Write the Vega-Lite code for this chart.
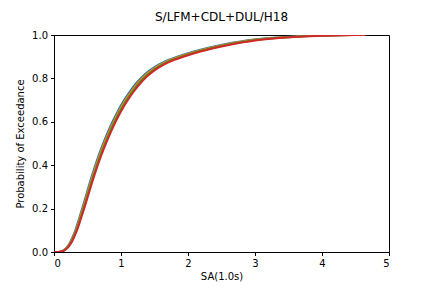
{
  "$schema": "https://vega.github.io/schema/vega-lite/v6.json",
  "autosize": "none",
  "width": 335,
  "height": 217,
  "padding": {"left": 54, "top": 35, "right": 43, "bottom": 36},
  "background": "white",
  "title": {"text": "S/LFM+CDL+DUL/H18", "font": "DejaVu Sans", "fontSize": 12, "fontWeight": "normal", "color": "black", "offset": 6, "anchor": "middle"},
  "config": {
    "view": {"stroke": "black", "strokeWidth": 1},
    "axis": {"grid": false, "domainColor": "black", "tickColor": "black", "labelColor": "black", "titleColor": "black", "labelFont": "DejaVu Sans", "titleFont": "DejaVu Sans", "labelFontSize": 10, "titleFontSize": 10, "titleFontWeight": "normal", "tickSize": 3.5, "labelPadding": 3}
  },
  "datasets": {
    "curves": [
      {"s": "a", "x": 0, "p": 0}, {"s": "a", "x": 0.048, "p": 0}, {"s": "a", "x": 0.084, "p": 0.001}, {"s": "a", "x": 0.132, "p": 0.006}, {"s": "a", "x": 0.18, "p": 0.018}, {"s": "a", "x": 0.228, "p": 0.038}, {"s": "a", "x": 0.276, "p": 0.068}, {"s": "a", "x": 0.324, "p": 0.105}, {"s": "a", "x": 0.372, "p": 0.152}, {"s": "a", "x": 0.42, "p": 0.2}, {"s": "a", "x": 0.468, "p": 0.25}, {"s": "a", "x": 0.564, "p": 0.35}, {"s": "a", "x": 0.66, "p": 0.44}, {"s": "a", "x": 0.756, "p": 0.518}, {"s": "a", "x": 0.852, "p": 0.587}, {"s": "a", "x": 0.948, "p": 0.647}, {"s": "a", "x": 1.044, "p": 0.699}, {"s": "a", "x": 1.14, "p": 0.743}, {"s": "a", "x": 1.236, "p": 0.781}, {"s": "a", "x": 1.332, "p": 0.812}, {"s": "a", "x": 1.428, "p": 0.837}, {"s": "a", "x": 1.524, "p": 0.857}, {"s": "a", "x": 1.62, "p": 0.873}, {"s": "a", "x": 1.716, "p": 0.886}, {"s": "a", "x": 1.908, "p": 0.907}, {"s": "a", "x": 2.1, "p": 0.925}, {"s": "a", "x": 2.388, "p": 0.947}, {"s": "a", "x": 2.676, "p": 0.965}, {"s": "a", "x": 2.868, "p": 0.975}, {"s": "a", "x": 3.348, "p": 0.989}, {"s": "a", "x": 3.828, "p": 0.996}, {"s": "a", "x": 4.116, "p": 0.999}, {"s": "a", "x": 4.45, "p": 1.0},
      {"s": "b", "x": 0, "p": 0}, {"s": "b", "x": 0.049, "p": 0}, {"s": "b", "x": 0.089, "p": 0.001}, {"s": "b", "x": 0.138, "p": 0.006}, {"s": "b", "x": 0.187, "p": 0.018}, {"s": "b", "x": 0.235, "p": 0.038}, {"s": "b", "x": 0.284, "p": 0.068}, {"s": "b", "x": 0.333, "p": 0.105}, {"s": "b", "x": 0.381, "p": 0.152}, {"s": "b", "x": 0.43, "p": 0.2}, {"s": "b", "x": 0.479, "p": 0.25}, {"s": "b", "x": 0.576, "p": 0.35}, {"s": "b", "x": 0.673, "p": 0.44}, {"s": "b", "x": 0.77, "p": 0.518}, {"s": "b", "x": 0.868, "p": 0.587}, {"s": "b", "x": 0.965, "p": 0.647}, {"s": "b", "x": 1.062, "p": 0.699}, {"s": "b", "x": 1.16, "p": 0.743}, {"s": "b", "x": 1.257, "p": 0.781}, {"s": "b", "x": 1.354, "p": 0.812}, {"s": "b", "x": 1.452, "p": 0.837}, {"s": "b", "x": 1.549, "p": 0.857}, {"s": "b", "x": 1.646, "p": 0.873}, {"s": "b", "x": 1.743, "p": 0.886}, {"s": "b", "x": 1.938, "p": 0.907}, {"s": "b", "x": 2.133, "p": 0.925}, {"s": "b", "x": 2.425, "p": 0.947}, {"s": "b", "x": 2.716, "p": 0.965}, {"s": "b", "x": 2.911, "p": 0.975}, {"s": "b", "x": 3.398, "p": 0.989}, {"s": "b", "x": 3.884, "p": 0.996}, {"s": "b", "x": 4.176, "p": 0.999}, {"s": "b", "x": 4.52, "p": 1.0},
      {"s": "c", "x": 0, "p": 0}, {"s": "c", "x": 0.049, "p": 0}, {"s": "c", "x": 0.095, "p": 0.001}, {"s": "c", "x": 0.144, "p": 0.006}, {"s": "c", "x": 0.193, "p": 0.018}, {"s": "c", "x": 0.243, "p": 0.038}, {"s": "c", "x": 0.292, "p": 0.068}, {"s": "c", "x": 0.341, "p": 0.105}, {"s": "c", "x": 0.391, "p": 0.152}, {"s": "c", "x": 0.44, "p": 0.2}, {"s": "c", "x": 0.49, "p": 0.25}, {"s": "c", "x": 0.588, "p": 0.35}, {"s": "c", "x": 0.687, "p": 0.44}, {"s": "c", "x": 0.786, "p": 0.518}, {"s": "c", "x": 0.884, "p": 0.587}, {"s": "c", "x": 0.983, "p": 0.647}, {"s": "c", "x": 1.082, "p": 0.699}, {"s": "c", "x": 1.18, "p": 0.743}, {"s": "c", "x": 1.279, "p": 0.781}, {"s": "c", "x": 1.378, "p": 0.812}, {"s": "c", "x": 1.477, "p": 0.837}, {"s": "c", "x": 1.575, "p": 0.857}, {"s": "c", "x": 1.674, "p": 0.873}, {"s": "c", "x": 1.773, "p": 0.886}, {"s": "c", "x": 1.97, "p": 0.907}, {"s": "c", "x": 2.167, "p": 0.925}, {"s": "c", "x": 2.464, "p": 0.947}, {"s": "c", "x": 2.76, "p": 0.965}, {"s": "c", "x": 2.957, "p": 0.975}, {"s": "c", "x": 3.45, "p": 0.989}, {"s": "c", "x": 3.944, "p": 0.996}, {"s": "c", "x": 4.24, "p": 0.999}, {"s": "c", "x": 4.59, "p": 1.0},
      {"s": "d", "x": 0, "p": 0}, {"s": "d", "x": 0.05, "p": 0}, {"s": "d", "x": 0.1, "p": 0.001}, {"s": "d", "x": 0.15, "p": 0.006}, {"s": "d", "x": 0.2, "p": 0.018}, {"s": "d", "x": 0.25, "p": 0.038}, {"s": "d", "x": 0.3, "p": 0.068}, {"s": "d", "x": 0.35, "p": 0.105}, {"s": "d", "x": 0.4, "p": 0.152}, {"s": "d", "x": 0.45, "p": 0.2}, {"s": "d", "x": 0.5, "p": 0.25}, {"s": "d", "x": 0.6, "p": 0.35}, {"s": "d", "x": 0.7, "p": 0.44}, {"s": "d", "x": 0.8, "p": 0.518}, {"s": "d", "x": 0.9, "p": 0.587}, {"s": "d", "x": 1.0, "p": 0.647}, {"s": "d", "x": 1.1, "p": 0.699}, {"s": "d", "x": 1.2, "p": 0.743}, {"s": "d", "x": 1.3, "p": 0.781}, {"s": "d", "x": 1.4, "p": 0.812}, {"s": "d", "x": 1.5, "p": 0.837}, {"s": "d", "x": 1.6, "p": 0.857}, {"s": "d", "x": 1.7, "p": 0.873}, {"s": "d", "x": 1.8, "p": 0.886}, {"s": "d", "x": 2.0, "p": 0.907}, {"s": "d", "x": 2.2, "p": 0.925}, {"s": "d", "x": 2.5, "p": 0.947}, {"s": "d", "x": 2.8, "p": 0.965}, {"s": "d", "x": 3.0, "p": 0.975}, {"s": "d", "x": 3.5, "p": 0.989}, {"s": "d", "x": 4.0, "p": 0.996}, {"s": "d", "x": 4.3, "p": 0.999}, {"s": "d", "x": 4.65, "p": 1.0}
    ]
  },
  "data": {"name": "curves"},
  "mark": {"type": "line", "strokeWidth": 2, "clip": true, "interpolate": "monotone"},
  "encoding": {
    "x": {"field": "x", "type": "quantitative", "scale": {"domain": [0, 5], "nice": false, "zero": false}, "axis": {"title": "SA(1.0s)", "values": [0, 1, 2, 3, 4, 5], "format": "d", "titlePadding": 3}},
    "y": {"field": "p", "type": "quantitative", "scale": {"domain": [0, 1], "nice": false}, "axis": {"title": "Probability of Exceedance", "values": [0, 0.2, 0.4, 0.6, 0.8, 1.0], "format": ".1f", "titlePadding": 6}},
    "color": {"field": "s", "type": "nominal", "scale": {"domain": ["a", "b", "c", "d"], "range": ["#1f77b4", "#ff7f0e", "#2ca02c", "#d62728"]}, "legend": null},
    "order": {"field": "x", "type": "quantitative"}
  }
}
